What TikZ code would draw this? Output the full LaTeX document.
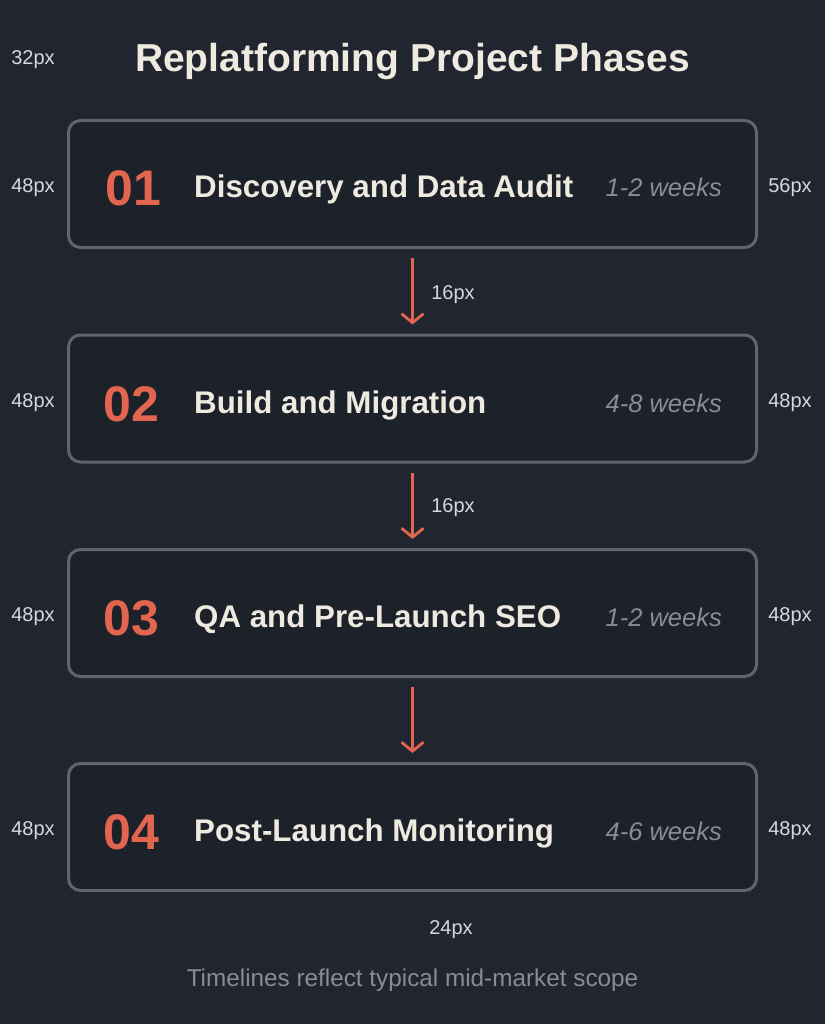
\documentclass[tikz,border=0pt]{standalone}
\usepackage{fontspec}
\setmainfont{Liberation Sans}
\usetikzlibrary{arrows.meta}
\definecolor{bg}{HTML}{20252F}
\definecolor{boxfill}{HTML}{1C212A}
\definecolor{boxline}{HTML}{5E6570}
\definecolor{cream}{HTML}{EEEAE0}
\definecolor{coral}{HTML}{E2664F}
\definecolor{muted}{HTML}{878D97}
\definecolor{dimlabel}{HTML}{D6D8DC}
\tikzset{
  phasebox/.style={draw=boxline, line width=3pt, fill=boxfill, rounded corners=12pt,
    minimum width=688pt, minimum height=127pt, inner sep=0pt},
  phasenum/.style={anchor=base west, inner sep=0pt, text=coral, font=\fontsize{50}{50}\selectfont\bfseries},
  phasename/.style={anchor=base west, inner sep=0pt, text=cream, font=\fontsize{31.3}{32}\selectfont\bfseries},
  phaseweeks/.style={anchor=base east, inner sep=0pt, text=muted, font=\fontsize{25.5}{26}\selectfont\itshape},
  sizelabel/.style={inner sep=0pt, text=dimlabel, font=\fontsize{20}{20}\selectfont},
  flow/.style={draw=coral, line width=2.8pt, -{Straight Barb[length=9pt,width=22pt,line width=2.8pt]},
    shorten <=9pt, shorten >=9pt}
}
\begin{document}
\begin{tikzpicture}[x=1pt,y=-1pt]
\fill[bg] (0,0) rectangle (825,1024);
\useasboundingbox (0,0) rectangle (825,1024);

\node[text=cream, font=\fontsize{39}{40}\selectfont\bfseries, anchor=base, inner sep=0pt] (title) at (412.5,72) {Replatforming Project Phases};
\node[sizelabel] (l32) at (33,60) {32px};

% boxes
\node[phasebox] (b1) at (412.5,184) {};
\node[phasebox] (b2) at (412.5,398.5) {};
\node[phasebox] (b3) at (412.5,613) {};
\node[phasebox] (b4) at (412.5,827) {};

\node[phasenum] (n1) at (105,206) {01};
\node[phasename] (t1) at (194,198) {Discovery and Data Audit};
\node[phaseweeks] (w1) at (722,197) {1-2 weeks};

\node[phasenum] (n2) at (103,421) {02};
\node[phasename] (t2) at (194,413) {Build and Migration};
\node[phaseweeks] (w2) at (722,412) {4-8 weeks};

\node[phasenum] (n3) at (103,635) {03};
\node[phasename] (t3) at (194,627) {QA and Pre-Launch SEO};
\node[phaseweeks] (w3) at (722,626) {1-2 weeks};

\node[phasenum] (n4) at (103,849) {04};
\node[phasename] (t4) at (194,841) {Post-Launch Monitoring};
\node[phaseweeks] (w4) at (722,840) {4-6 weeks};

% side labels
\node[sizelabel] (L1) at (33,188) {48px};
\node[sizelabel] (L2) at (33,403) {48px};
\node[sizelabel] (L3) at (33,617) {48px};
\node[sizelabel] (L4) at (33,831) {48px};
\node[sizelabel] (R1) at (790,188) {56px};
\node[sizelabel] (R2) at (790,403) {48px};
\node[sizelabel] (R3) at (790,617) {48px};
\node[sizelabel] (R4) at (790,831) {48px};

% arrows
\draw[flow] (b1.south) -- (b2.north);
\draw[flow] (b2.south) -- (b3.north);
\draw[flow] (b3.south) -- (b4.north);
\node[sizelabel] (g1) at (453,295) {16px};
\node[sizelabel] (g2) at (453,508) {16px};
\node[sizelabel] (g3) at (451,930) {24px};

\node[text=muted, font=\fontsize{24.3}{25}\selectfont, inner sep=0pt] (foot) at (412.5,980) {Timelines reflect typical mid-market scope};
\end{tikzpicture}
\end{document}
